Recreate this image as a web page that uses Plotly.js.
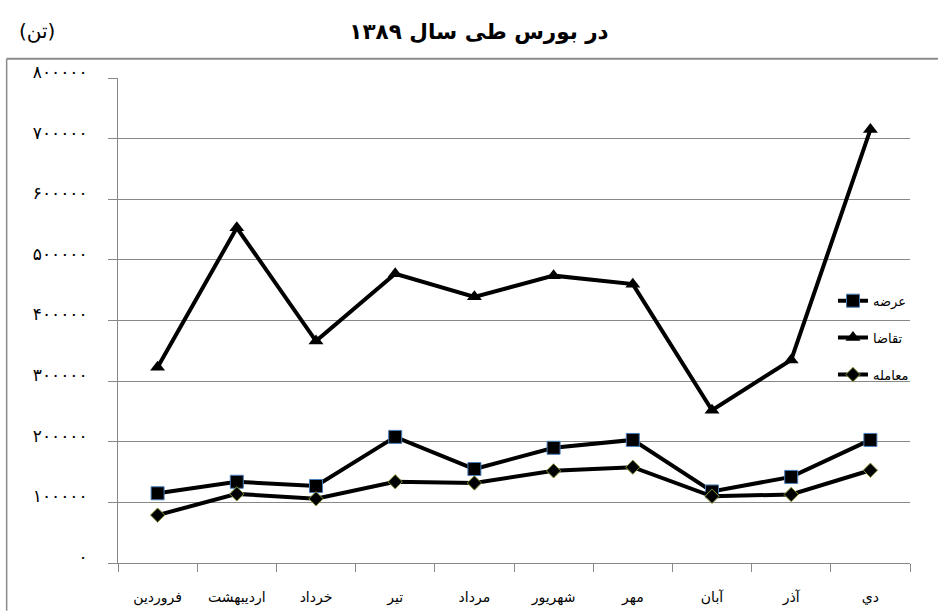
<!DOCTYPE html>
<html>
<head>
<meta charset="utf-8">
<script src="https://cdn.plot.ly/plotly-3.0.1.min.js"></script>
<style>html,body{margin:0;padding:0;background:#fff;}#chart{width:938px;height:611px;}</style>
</head>
<body>
<div id="chart"></div>
<script>
// Categories (months, 1389)
var months = ["فروردين", "ارديبهشت", "خرداد", "تير", "مرداد", "شهريور", "مهر", "آبان", "آذر", "دي"];
// Series values (tons)
var supply = [115000, 134000, 127000, 208000, 155000, 190000, 203000, 118000, 142000, 203000];   // عرضه
var demand = [323000, 553000, 366000, 477000, 439000, 474000, 460000, 252000, 335000, 715000];   // تقاضا
var traded = [79000, 114000, 106000, 134000, 132000, 152000, 158000, 110000, 113000, 153000];    // معامله
// Series names
var seriesNames = ["عرضه", "تقاضا", "معامله"];
// Y tick values and labels
var yTickVals = [0, 100000, 200000, 300000, 400000, 500000, 600000, 700000, 800000];
var yTickText = ["۰", "۱۰۰۰۰۰", "۲۰۰۰۰۰", "۳۰۰۰۰۰", "۴۰۰۰۰۰", "۵۰۰۰۰۰", "۶۰۰۰۰۰", "۷۰۰۰۰۰", "۸۰۰۰۰۰"];
var titleText = "در بورس طی سال ۱۳۸۹";
var unitText = "(تن)";

var FONT = "DejaVu Sans, sans-serif";

var traces = [
  {x: months, y: supply, name: seriesNames[0], type: "scatter", mode: "lines+markers", legendgroup: "a",
   line: {color: "#000", width: 4},
   marker: {symbol: "square", size: 13, color: "#000", line: {color: "#4a7ebb", width: 1}}},
  {x: months, y: demand, name: seriesNames[1], type: "scatter", mode: "lines+markers", legendgroup: "b",
   line: {color: "#000", width: 4},
   marker: {symbol: "triangle-up", size: 13, color: "#000"}},
  {x: months, y: traded, name: seriesNames[2], type: "scatter", mode: "lines+markers", legendgroup: "c",
   line: {color: "#000", width: 4},
   marker: {symbol: "diamond", size: 11, color: "#000", line: {color: "#8a9a3a", width: 1}}}
];

var L = 118.3, R = 910, T = 78.3, B = 563.2;
function px(xp){ return (xp - L) / (R - L); }
function py(yp){ return (B - yp) / (B - T); }

var layout = {
  width: 938, height: 611,
  margin: {l: L, r: 938 - R, t: T, b: 611 - B, pad: 0},
  paper_bgcolor: "#fff", plot_bgcolor: "#fff",
  font: {family: FONT, color: "#000", size: 14},
  showlegend: true,
  title: {text: titleText, x: 479/938, xref: "container", xanchor: "center",
          y: 1 - 31/611, yref: "container", yanchor: "middle",
          font: {family: FONT, size: 21.5, weight: "bold", color: "#000"}},
  xaxis: {
    type: "category", range: [-0.5, 9.5], fixedrange: true,
    showline: true, linecolor: "#888", linewidth: 1,
    ticks: "outside", ticklen: 8, tickcolor: "#888", tickson: "boundaries",
    showgrid: false, zeroline: false,
    tickfont: {family: FONT, size: 14, color: "#000"},
    ticklabelstandoff: 21
  },
  yaxis: {
    range: [0, 800000], fixedrange: true,
    tickvals: yTickVals, ticktext: yTickText,
    showline: true, linecolor: "#888", linewidth: 1,
    ticks: "outside", ticklen: 9, tickcolor: "#888",
    showgrid: true, gridcolor: "#888", gridwidth: 1, zeroline: false,
    tickfont: {family: FONT, size: 17, color: "#000"},
    ticklabelstandoff: 17, ticklabelshift: -6
  },
  legend: {x: px(833), xanchor: "left", y: py(286), yanchor: "top",
           bgcolor: "rgba(0,0,0,0)", borderwidth: 0,
           font: {family: FONT, size: 13, color: "#000"},
           tracegroupgap: 17, itemwidth: 30},
  shapes: [
    {type: "line", xref: "paper", yref: "paper", x0: px(7), x1: px(938), y0: py(59), y1: py(59),
     line: {color: "#8c8c8c", width: 2}},
    {type: "line", xref: "paper", yref: "paper", x0: px(7), x1: px(7), y0: py(59), y1: py(611),
     line: {color: "#8c8c8c", width: 1.5}}
  ],
  annotations: [
    {text: unitText, xref: "paper", yref: "paper", x: px(37), y: py(31), xanchor: "center", yanchor: "middle",
     showarrow: false, font: {family: FONT, size: 20, color: "#000"}}
  ]
};

Plotly.newPlot("chart", traces, layout, {staticPlot: true, displayModeBar: false});
</script>
</body>
</html>
